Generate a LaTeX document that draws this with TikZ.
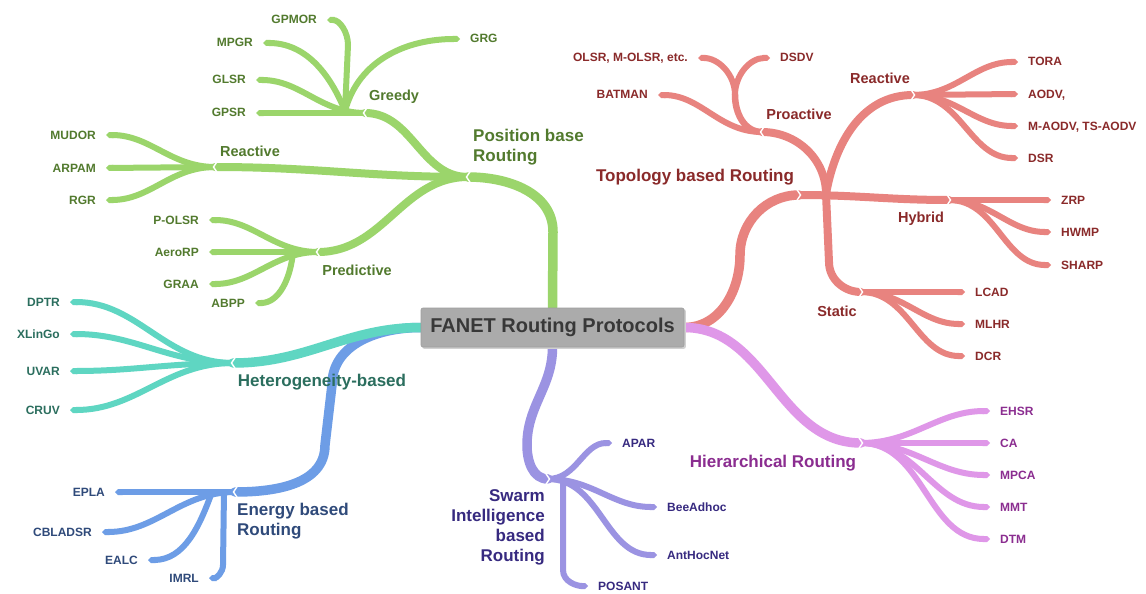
\documentclass[tikz,border=0pt]{standalone}
\usepackage{fontspec}
\setmainfont{Liberation Sans}
\usetikzlibrary{arrows.meta}
\definecolor{gL}{HTML}{9BD56B}\definecolor{gT}{HTML}{527A2E}
\definecolor{rL}{HTML}{E8837F}\definecolor{rT}{HTML}{8A2A2A}
\definecolor{hL}{HTML}{DF97E8}\definecolor{hT}{HTML}{8B2D90}
\definecolor{pL}{HTML}{9B93E2}\definecolor{pT}{HTML}{372A80}
\definecolor{bL}{HTML}{6D9DE6}\definecolor{bT}{HTML}{2F4A7A}
\definecolor{tL}{HTML}{5FD6C2}\definecolor{tT}{HTML}{2B6E5E}
\definecolor{boxG}{HTML}{ABABAB}\definecolor{boxT}{HTML}{383838}
\begin{document}
\begin{tikzpicture}[x=1pt,y=1pt,
  trunk/.style={line width=9.5pt,line cap=round},
  catline/.style={line width=8pt,line cap=round},
  stem/.style={line width=6.5pt,line cap=round},
  leafline/.style={line width=6pt,line cap=round,-{Triangle Cap}},
  leafW/.style={anchor=east,inner xsep=10pt,inner ysep=0pt,text height=9pt,text depth=1pt,font=\bfseries\fontsize{12}{14}\selectfont},
  leafE/.style={anchor=west,inner xsep=10pt,inner ysep=0pt,text height=9pt,text depth=1pt,font=\bfseries\fontsize{12}{14}\selectfont},
  cat/.style={inner sep=0pt,font=\bfseries\fontsize{14.5}{17}\selectfont},
  mainlab/.style={inner sep=0pt,font=\bfseries\fontsize{17}{20}\selectfont},
  rootbox/.style={fill=boxG,draw=boxG!92!black,line width=0.6pt,rounded corners=2pt,minimum width=263pt,minimum height=39pt,inner sep=0pt,text=boxT,font=\bfseries\fontsize{20}{24}\selectfont},
  notchL/.pic={\draw[white,line width=1.4pt] (2.5,6) -- (-1.5,0) -- (2.5,-6);},
  notchR/.pic={\draw[white,line width=1.4pt] (-2.5,6) -- (1.5,0) -- (-2.5,-6);}
]
\useasboundingbox (0,0) rectangle (1146,-594);
\fill[white] (0,0) rectangle (1146,-594);

% root placeholder for anchors
\path (552.5,-327.5) node[rootbox,fill=none,draw=none] (root) {\phantom{FANET Routing Protocols}};

% ---------- coordinates ----------
\coordinate (g1) at (553,-232);
\coordinate (pb) at (468,-177);
\coordinate (gd) at (365,-113);
\coordinate (gdj) at (345,-111);
\coordinate (gpm1) at (348,-45);
\coordinate (grn) at (215,-167);
\coordinate (gpn) at (318,-252);
\coordinate (gpj) at (293,-252);
\coordinate (hn) at (233,-363);
\coordinate (eb1) at (332,-385);
\coordinate (eb2) at (325,-445);
\coordinate (en) at (235,-492);
\coordinate (ej) at (212,-492);
\coordinate (ej2) at (224,-492);
\coordinate (im1) at (223,-565);
\coordinate (sw1) at (527,-445);
\coordinate (sn) at (548,-479);
\coordinate (sj2) at (563,-479);
\coordinate (ps1) at (563,-570);
\coordinate (hrn) at (861,-443);
\coordinate (t1) at (740,-255);
\coordinate (tn) at (799,-195);
\coordinate (tj) at (826,-194);
\coordinate (prn) at (762,-132);
\coordinate (ps) at (735,-95);
\coordinate (rrn) at (913,-95);
\coordinate (hyn) at (949,-200);
\coordinate (st1) at (829,-262);
\coordinate (stn) at (861,-292);

% ---------- leaf labels ----------
\begin{scope}[text=gT]
\node[leafW] (gpsr) at (256,-113) {GPSR};
\node[leafW] (glsr) at (256,-80) {GLSR};
\node[leafW] (mpgr) at (263,-43) {MPGR};
\node[leafW] (gpmor) at (327,-20) {GPMOR};
\node[leafE] (grg) at (460,-39) {GRG};
\node[leafW] (mudor) at (106,-135) {MUDOR};
\node[leafW] (arpam) at (106,-168) {ARPAM};
\node[leafW] (rgr) at (106,-200) {RGR};
\node[leafW] (polsr) at (209,-220) {P-OLSR};
\node[leafW] (aerorp) at (209,-252) {AeroRP};
\node[leafW] (graa) at (209,-284) {GRAA};
\node[leafW] (abpp) at (255,-303) {ABPP};
\end{scope}
\begin{scope}[text=tT]
\node[leafW] (dptr) at (70,-302) {DPTR};
\node[leafW] (xlingo) at (70,-334) {XLinGo};
\node[leafW] (uvar) at (70,-371) {UVAR};
\node[leafW] (cruv) at (70,-410) {CRUV};
\end{scope}
\begin{scope}[text=bT]
\node[leafW] (epla) at (115,-492) {EPLA};
\node[leafW] (cbladsr) at (102,-532) {CBLADSR};
\node[leafW] (ealc) at (148,-560) {EALC};
\node[leafW] (imrl) at (209,-578) {IMRL};
\end{scope}
\begin{scope}[text=pT]
\node[leafE] (apar) at (612,-443) {APAR};
\node[leafE] (bee) at (657,-507) {BeeAdhoc};
\node[leafE] (ant) at (657,-555) {AntHocNet};
\node[leafE] (posant) at (588,-586) {POSANT};
\end{scope}
\begin{scope}[text=hT]
\node[leafE] (ehsr) at (990,-411) {EHSR};
\node[leafE] (ca) at (990,-443) {CA};
\node[leafE] (mpca) at (990,-475) {MPCA};
\node[leafE] (mmt) at (990,-507) {MMT};
\node[leafE] (dtm) at (990,-539) {DTM};
\end{scope}
\begin{scope}[text=rT]
\node[leafW] (batman) at (658,-95) {BATMAN};
\node[leafW] (olsr) at (698,-58) {OLSR, M-OLSR, etc.};
\node[leafE] (dsdv) at (770,-58) {DSDV};
\node[leafE] (tora) at (1018,-62) {TORA};
\node[leafE] (aodv) at (1018,-94) {AODV,};
\node[leafE] (maodv) at (1018,-126) {M-AODV, TS-AODV};
\node[leafE] (dsr) at (1018,-158) {DSR};
\node[leafE] (zrp) at (1051,-200) {ZRP};
\node[leafE] (hwmp) at (1051,-232) {HWMP};
\node[leafE] (sharp) at (1051,-265) {SHARP};
\node[leafE] (lcad) at (965,-292) {LCAD};
\node[leafE] (mlhr) at (965,-324) {MLHR};
\node[leafE] (dcr) at (965,-356) {DCR};
\end{scope}

% ---------- green: position based ----------
\begin{scope}[draw=gL]
\draw[trunk] (root.north) -- (g1) to[out=90,in=0] (pb);
\draw[catline] (pb) to[out=180,in=0] (gd);
\draw[catline] (pb) to[out=180,in=0] (grn);
\draw[catline] (pb) to[out=180,in=0] (gpn);
\draw[leafline] (gd) -- (gpsr.east);
\draw[leafline] (gd) to[out=180,in=0] (glsr.east);
\draw[leafline] (gdj) to[out=112,in=0] (mpgr.east);
\draw[leafline] (gdj) -- (gpm1) to[out=90,in=0] (gpmor.east);
\draw[leafline] (gdj) to[out=75,in=180] (grg.west);
\draw[leafline] (grn) to[out=180,in=0] (mudor.east);
\draw[leafline] (grn) -- (arpam.east);
\draw[leafline] (grn) to[out=180,in=0] (rgr.east);
\draw[leafline] (gpn) to[out=180,in=0] (polsr.east);
\draw[leafline] (gpn) -- (aerorp.east);
\draw[leafline] (gpn) to[out=180,in=0] (graa.east);
\draw[leafline] (gpj) to[out=265,in=0] (abpp.east);
\end{scope}

% ---------- blue: energy ----------
\begin{scope}[draw=bL]
\draw[trunk] (root.west) to[out=180,in=90] (eb1) -- (eb2) to[out=270,in=0] (en);
\draw[leafline] (en) -- (epla.east);
\draw[leafline] (en) to[out=180,in=0] (cbladsr.east);
\draw[leafline] (ej) to[out=250,in=0] (ealc.east);
\draw[leafline] (ej2) -- (im1) to[out=270,in=0] (imrl.east);
\end{scope}

% ---------- teal: heterogeneity ----------
\begin{scope}[draw=tL]
\draw[trunk] (root.west) to[out=180,in=0] (hn);
\draw[leafline] (hn) to[out=180,in=0] (dptr.east);
\draw[leafline] (hn) to[out=180,in=0] (xlingo.east);
\draw[leafline] (hn) to[out=180,in=0] (uvar.east);
\draw[leafline] (hn) to[out=180,in=0] (cruv.east);
\end{scope}

% ---------- purple: swarm ----------
\begin{scope}[draw=pL]
\draw[trunk] (root.south) to[out=270,in=90] (sw1) to[out=270,in=180] (sn);
\draw[leafline] (sn) to[out=0,in=180] (apar.west);
\draw[leafline] (sn) to[out=0,in=180] (bee.west);
\draw[leafline] (sn) to[out=0,in=180] (ant.west);
\draw[leafline] (sj2) -- (ps1) to[out=270,in=180] (posant.west);
\end{scope}

% ---------- red: topology ----------
\begin{scope}[draw=rL]
\draw[trunk] (root.east) to[out=0,in=270] (t1) to[out=90,in=180] (tn);
\draw[catline] (tj) to[out=90,in=0] (prn);
\draw[catline] (tj) to[out=80,in=180] (rrn);
\draw[catline] (tn) to[out=0,in=180] (hyn);
\draw[catline] (tj) -- (st1) to[out=270,in=180] (stn);
\draw[leafline] (prn) to[out=180,in=0] (batman.east);
\draw[stem] (prn) to[out=180,in=270] (ps);
\draw[leafline] (ps) to[out=90,in=0] (olsr.east);
\draw[leafline] (ps) to[out=90,in=180] (dsdv.west);
\draw[leafline] (rrn) to[out=0,in=180] (tora.west);
\draw[leafline] (rrn) -- (aodv.west);
\draw[leafline] (rrn) to[out=0,in=180] (maodv.west);
\draw[leafline] (rrn) to[out=0,in=180] (dsr.west);
\draw[leafline] (hyn) -- (zrp.west);
\draw[leafline] (hyn) to[out=0,in=180] (hwmp.west);
\draw[leafline] (hyn) to[out=0,in=180] (sharp.west);
\draw[leafline] (stn) -- (lcad.west);
\draw[leafline] (stn) to[out=0,in=180] (mlhr.west);
\draw[leafline] (stn) to[out=0,in=180] (dcr.west);
\end{scope}

% ---------- pink: hierarchical ----------
\begin{scope}[draw=hL]
\draw[trunk] (root.east) to[out=0,in=180] (hrn);
\draw[leafline] (hrn) to[out=0,in=180] (ehsr.west);
\draw[leafline] (hrn) -- (ca.west);
\draw[leafline] (hrn) to[out=0,in=180] (mpca.west);
\draw[leafline] (hrn) to[out=0,in=180] (mmt.west);
\draw[leafline] (hrn) to[out=0,in=180] (dtm.west);
\end{scope}

% ---------- notches ----------
\foreach \c in {pb,gd,grn,gpn,hn,en,prn} {\pic at (\c) {notchL};}
\foreach \c in {tn,rrn,hyn,stn,hrn,sn} {\pic at (\c) {notchR};}

% ---------- root box ----------
\fill[black!18,rounded corners=2pt] ([shift={(1.5pt,-1.5pt)}]root.south west) rectangle ([shift={(1.5pt,-1.5pt)}]root.north east);
\node[rootbox] (rootvis) at (root) {FANET Routing Protocols};

% ---------- category labels ----------
\node[mainlab,text=gT,anchor=west,align=left] (pbl) at (473,-147) {Position base\\Routing};
\node[cat,text=gT] (greedy) at (394,-97) {Greedy};
\node[cat,text=gT] (greact) at (250,-151) {Reactive};
\node[cat,text=gT] (pred) at (357,-270) {Predictive};
\node[mainlab,text=tT] (het) at (322,-382) {Heterogeneity-based};
\node[mainlab,text=bT,anchor=west,align=left] (ebl) at (237,-521) {Energy based\\Routing};
\node[mainlab,text=pT,anchor=north east,align=right] (swl) at (545,-489) {Swarm\\Intelligence\\based\\Routing};
\node[mainlab,text=hT] (hier) at (773,-463) {Hierarchical Routing};
\node[mainlab,text=rT] (topo) at (695,-177) {Topology based Routing};
\node[cat,text=rT] (proact) at (799,-114) {Proactive};
\node[cat,text=rT] (rreact) at (880,-78) {Reactive};
\node[cat,text=rT] (hybrid) at (921,-219) {Hybrid};
\node[cat,text=rT] (static) at (837,-311) {Static};
\end{tikzpicture}
\end{document}
